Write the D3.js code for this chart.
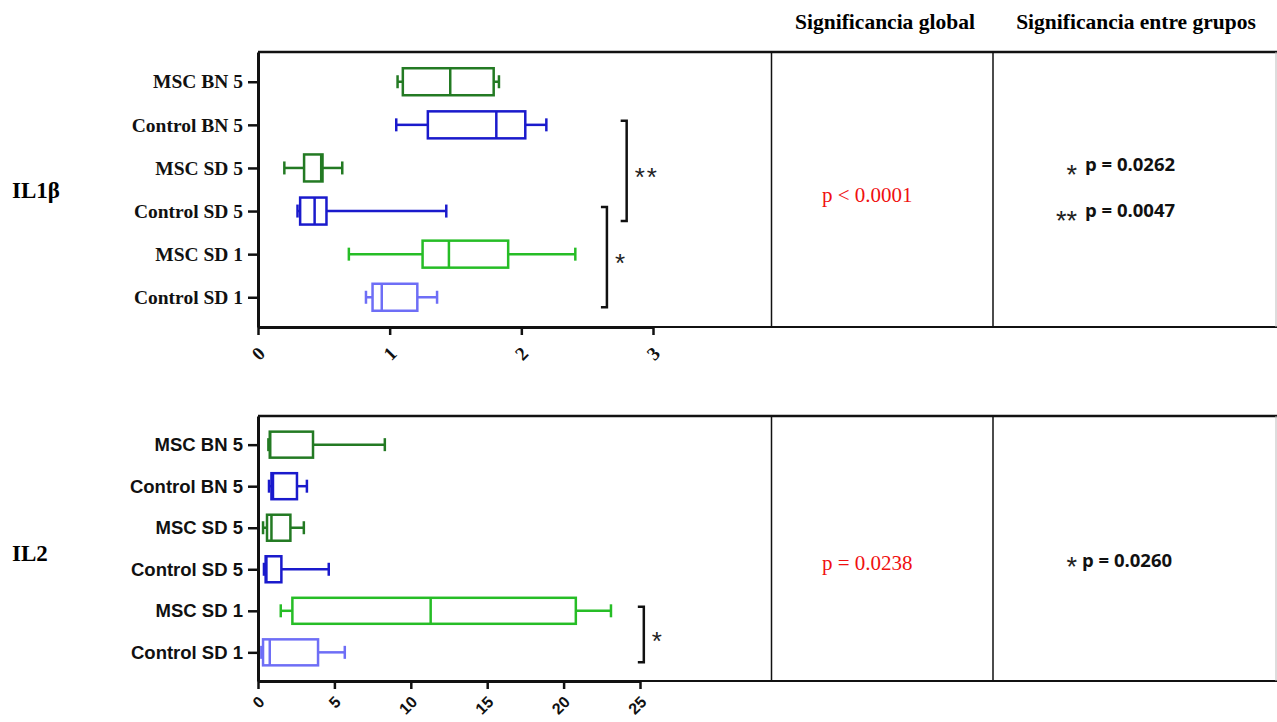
<!DOCTYPE html>
<html>
<head>
<meta charset="utf-8">
<script src="https://cdn.jsdelivr.net/npm/d3@7"></script>
<style>
  body { margin: 0; background: #fff; }
  svg { display: block; }
</style>
</head>
<body>
<div id="chart"></div>
<script>
// groups, top to bottom
const groups = ['MSC BN 5', 'Control BN 5', 'MSC SD 5', 'Control SD 5', 'MSC SD 1', 'Control SD 1'];
const groupColors = ['#237a23', '#1a1acc', '#237a23', '#1a1acc', '#26bd26', '#6e6ef6'];

// [min, q1, median, q3, max]
const il1bStats = [
  [1.06, 1.10, 1.46, 1.79, 1.83],
  [1.05, 1.29, 1.81, 2.03, 2.19],
  [0.20, 0.35, 0.48, 0.49, 0.64],
  [0.30, 0.32, 0.43, 0.52, 1.43],
  [0.69, 1.25, 1.45, 1.90, 2.41],
  [0.82, 0.87, 0.94, 1.21, 1.36]
];
const il2Stats = [
  [0.68, 0.77, 0.80, 3.60, 8.30],
  [0.72, 0.88, 0.98, 2.55, 3.20],
  [0.33, 0.59, 0.88, 2.12, 3.00],
  [0.39, 0.50, 0.55, 1.53, 4.63],
  [1.49, 2.25, 11.3, 20.8, 23.1],
  [0.22, 0.33, 0.77, 3.93, 5.68]
];

const il1bTicks = [0, 1, 2, 3];
const il2Ticks = [0, 5, 10, 15, 20, 25];

// significance brackets, "at" is the x value where the bracket stands
const il1bBrackets = [
  { from: 'Control BN 5', to: 'Control SD 5', label: '**', at: 2.80 },
  { from: 'Control SD 5', to: 'Control SD 1', label: '*', at: 2.65 }
];
const il2Brackets = [
  { from: 'MSC SD 1', to: 'Control SD 1', label: '*', at: 25.25 }
];

const headers = ['Significancia global', 'Significancia entre grupos'];
const globalP = ['p < 0.0001', 'p = 0.0238'];
const pairP = [
  [['*', 'p = 0.0262'], ['**', 'p = 0.0047']],
  [['*', 'p = 0.0260']]
];

const SERIF = '"Liberation Serif", "Times New Roman", serif';
const SANS = '"Liberation Sans", Arial, sans-serif';

const width = 1277;
const height = 722;
const col1 = 771.5;
const col2 = 993;

const svg = d3.select('#chart')
  .append('svg')
  .attr('width', width)
  .attr('height', height);

// column headers
svg.selectAll('text.header')
  .data(headers)
  .join('text')
  .attr('class', 'header')
  .attr('x', (d, i) => i === 0 ? 885 : 1136)
  .attr('y', 29)
  .attr('text-anchor', 'middle')
  .style('font-family', SERIF)
  .style('font-weight', 'bold')
  .style('font-size', '21.5px')
  .text(d => d);

const panels = [
  {
    title: 'IL1β', stats: il1bStats, ticks: il1bTicks, brackets: il1bBrackets,
    top: 52, bottom: 327, x0: 258, x1: 653, domainMax: 3, boxH: 27,
    labelFont: SERIF, labelSize: 19.5, tickFont: SERIF, tickSize: 19, tickShift: 'translate(3,23)',
    titleY: 198, globalY: 202, pairRows: [170.7, 216.7], starShift: [13, 13], pairX: 1085
  },
  {
    title: 'IL2', stats: il2Stats, ticks: il2Ticks, brackets: il2Brackets,
    top: 416, bottom: 681, x0: 258, x1: 640, domainMax: 25, boxH: 26,
    labelFont: SANS, labelSize: 18.5, tickFont: SANS, tickSize: 16, tickShift: 'translate(3,18)',
    titleY: 561, globalY: 570, pairRows: [566.7], starShift: [9], pairX: 1082
  }
];

panels.forEach((p, pi) => {
  const g = svg.append('g');

  const x = d3.scaleLinear().domain([0, p.domainMax]).range([p.x0, p.x1]);
  const y = d3.scalePoint().domain(groups).range([p.top, p.bottom]).padding(0.69);

  // frame lines of the table
  g.append('line')
    .attr('x1', p.x0).attr('x2', width).attr('y1', p.top).attr('y2', p.top)
    .attr('stroke', '#111').attr('stroke-width', 2.5);
  g.append('line')
    .attr('x1', p.x1).attr('x2', width).attr('y1', p.bottom).attr('y2', p.bottom)
    .attr('stroke', '#111').attr('stroke-width', 2.2);
  [col1, col2].forEach(cx => {
    g.append('line')
      .attr('x1', cx).attr('x2', cx).attr('y1', p.top).attr('y2', p.bottom)
      .attr('stroke', '#111').attr('stroke-width', 1.5);
  });
  g.append('line')
    .attr('x1', width - 1).attr('x2', width - 1).attr('y1', p.top).attr('y2', p.bottom)
    .attr('stroke', '#bbb').attr('stroke-width', 1);

  // panel title
  g.append('text')
    .attr('x', 12)
    .attr('y', p.titleY)
    .style('font-family', SERIF)
    .style('font-weight', 'bold')
    .style('font-size', '23px')
    .text(p.title);

  // axes
  const yAxis = g.append('g')
    .attr('transform', `translate(${p.x0},0)`)
    .call(d3.axisLeft(y).tickSize(10).tickPadding(5).tickSizeOuter(0));
  yAxis.select('.domain').attr('stroke', '#111').attr('stroke-width', 3);
  yAxis.selectAll('.tick line').attr('stroke', '#111').attr('stroke-width', 2.5);
  yAxis.selectAll('.tick text')
    .attr('fill', '#111')
    .style('font-family', p.labelFont)
    .style('font-weight', 'bold')
    .style('font-size', p.labelSize + 'px');

  const xAxis = g.append('g')
    .attr('transform', `translate(0,${p.bottom})`)
    .call(d3.axisBottom(x).tickValues(p.ticks).tickFormat(d3.format('d')).tickSize(8).tickSizeOuter(0));
  xAxis.select('.domain').attr('stroke', '#111').attr('stroke-width', 3);
  xAxis.selectAll('.tick line').attr('stroke', '#111').attr('stroke-width', 2.5);
  xAxis.selectAll('.tick text')
    .attr('y', null)
    .attr('dy', '0.35em')
    .attr('text-anchor', 'end')
    .attr('transform', p.tickShift + ' rotate(-45)')
    .attr('fill', '#111')
    .style('font-family', p.tickFont)
    .style('font-weight', 'bold')
    .style('font-size', p.tickSize + 'px');

  // box plots
  const boxes = g.append('g')
    .selectAll('g')
    .data(p.stats.map((s, i) => ({ group: groups[i], color: groupColors[i], s })))
    .join('g')
    .attr('stroke', d => d.color)
    .attr('stroke-width', 2.5)
    .attr('fill', 'none');

  const half = p.boxH / 2;
  const cap = 6.5;
  boxes.append('line')
    .attr('x1', d => x(d.s[0])).attr('x2', d => x(d.s[1]))
    .attr('y1', d => y(d.group)).attr('y2', d => y(d.group));
  boxes.append('line')
    .attr('x1', d => x(d.s[3])).attr('x2', d => x(d.s[4]))
    .attr('y1', d => y(d.group)).attr('y2', d => y(d.group));
  boxes.append('line')
    .attr('x1', d => x(d.s[0])).attr('x2', d => x(d.s[0]))
    .attr('y1', d => y(d.group) - cap).attr('y2', d => y(d.group) + cap);
  boxes.append('line')
    .attr('x1', d => x(d.s[4])).attr('x2', d => x(d.s[4]))
    .attr('y1', d => y(d.group) - cap).attr('y2', d => y(d.group) + cap);
  boxes.append('rect')
    .attr('x', d => x(d.s[1]))
    .attr('width', d => x(d.s[3]) - x(d.s[1]))
    .attr('y', d => y(d.group) - half)
    .attr('height', p.boxH);
  boxes.append('line')
    .attr('x1', d => x(d.s[2])).attr('x2', d => x(d.s[2]))
    .attr('y1', d => y(d.group) - half).attr('y2', d => y(d.group) + half);

  // significance brackets
  p.brackets.forEach(b => {
    const bx = x(b.at);
    const y1 = y(b.from) - 4;
    const y2 = y(b.to) + 10;
    g.append('path')
      .attr('d', `M${bx - 6},${y1}H${bx}V${y2}H${bx - 6}`)
      .attr('fill', 'none')
      .attr('stroke', '#111')
      .attr('stroke-width', 2.5);
    g.append('text')
      .attr('x', bx + 8)
      .attr('y', (y1 + y2) / 2 + 15)
      .style('font-family', SANS)
      .style('font-size', '26px')
      .style('letter-spacing', '2px')
      .attr('fill', '#222')
      .text(b.label);
  });

  // global significance
  g.append('text')
    .attr('x', (col1 + col2) / 2 - 15)
    .attr('y', p.globalY)
    .attr('text-anchor', 'middle')
    .attr('fill', '#f01010')
    .style('font-family', SERIF)
    .style('font-size', '21px')
    .text(globalP[pi]);

  // pairwise significance
  pairP[pi].forEach((row, ri) => {
    const by = p.pairRows[ri];
    g.append('text')
      .attr('x', 1077)
      .attr('y', by + p.starShift[ri])
      .attr('text-anchor', 'end')
      .attr('fill', '#222')
      .style('font-family', SANS)
      .style('font-size', '27px')
      .text(row[0]);
    g.append('text')
      .attr('x', p.pairX)
      .attr('y', by)
      .attr('fill', '#111')
      .style('font-family', '"Open Sans", sans-serif')
      .style('font-weight', 'bold')
      .style('font-size', '18.5px')
      .text(row[1]);
  });
});
</script>
</body>
</html>
